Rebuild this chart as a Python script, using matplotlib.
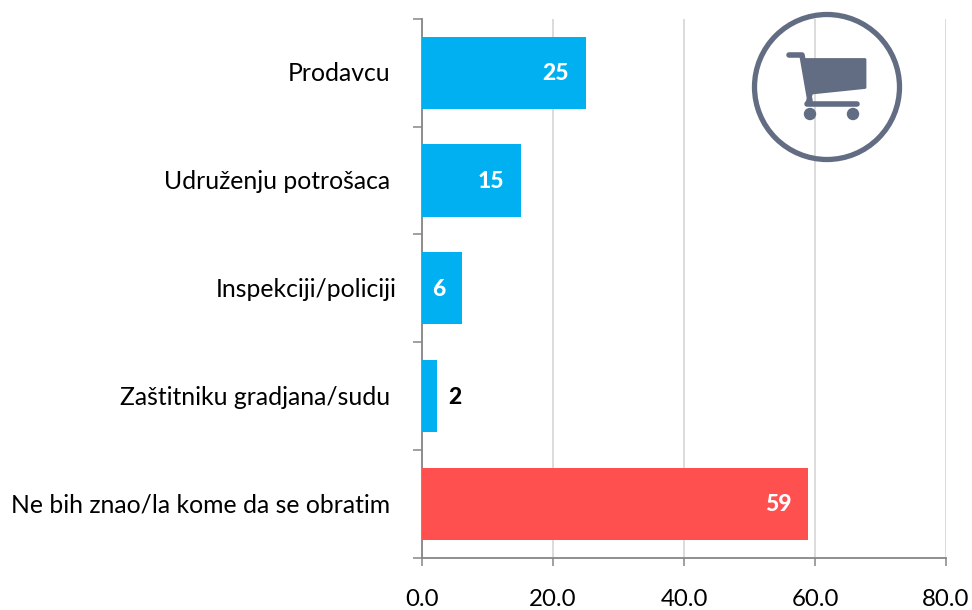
#!/usr/bin/env python3
"""Horizontal bars: whom respondents would turn to."""

import matplotlib
matplotlib.use("Agg")
import matplotlib.pyplot as plt
from matplotlib.patches import Circle, Polygon

categories = ["Prodavcu", "Udruženju potrošaca", "Inspekciji/policiji",
              "Zaštitniku gradjana/sudu", "Ne bih znao/la kome da se obratim"]
values = [25, 15.1, 6.1, 2.3, 59]
value_labels = ["25", "15", "6", "2", "59"]
bar_colors = ["#00B0F0", "#00B0F0", "#00B0F0", "#00B0F0", "#FF5050"]
label_colors = ["white", "white", "white", "black", "white"]
xticks = [0, 20, 40, 60, 80]

plt.rcParams["font.family"] = ["Lato", "DejaVu Sans"]

W, H = 972, 610
AXIS_GREY = "#868686"
fig = plt.figure(figsize=(W / 100, H / 100), dpi=100)
ax = fig.add_axes([422 / W, 1 - 557.5 / H, (946 - 422) / W, (557.5 - 19) / H])

y = list(range(len(categories)))
ax.barh(y, values, height=0.67, color=bar_colors, zorder=3)
ax.set_ylim(len(categories) - 0.5, -0.5)
ax.set_xlim(0, 80)

ax.set_xticks(xticks)
ax.set_xticklabels([f"{t:.1f}" for t in xticks], fontsize=17.3)
ax.set_yticks([i - 0.5 for i in range(len(categories) + 1)])
ax.set_yticklabels([])
ax.tick_params(axis="y", length=6.5, color=AXIS_GREY, width=1.1)
ax.tick_params(axis="x", length=6, color=AXIS_GREY, width=1.1, pad=17,
               labelcolor="black")
ax.xaxis.grid(True, color="#D9D9D9", lw=1.3, zorder=0)
for s in ("top", "right"):
    ax.spines[s].set_visible(False)
for s in ("left", "bottom"):
    ax.spines[s].set_color(AXIS_GREY)
    ax.spines[s].set_linewidth(1.3)

# labels end a little short of the axis, the third one runs closer
label_right = [-4.9, -4.9, -3.8, -4.9, -4.9]
for i, cat in enumerate(categories):
    ax.text(label_right[i], i + 0.01, cat, ha="right", va="center",
            fontsize=17.8, color="black")
    if label_colors[i] == "black":
        ax.text(values[i] + 2.7, i + 0.01, value_labels[i], ha="center",
                va="center", fontsize=16.5, fontweight="black", color="black",
                zorder=4)
    else:
        ax.text(values[i] - 2.6, i + 0.01, value_labels[i], ha="right",
                va="center", fontsize=16.5, fontweight="black",
                color=label_colors[i], zorder=4)

# cart icon, in pixel coords
icon = fig.add_axes([0, 0, 1, 1], facecolor="none")
icon.set_xlim(0, W)
icon.set_ylim(H, 0)
icon.axis("off")
slate = "#626C82"
icon.add_patch(Circle((827, 87), 72.5, fc="none", ec=slate, lw=3.8))
icon.add_patch(Polygon([(803, 59.5), (865, 59.5), (865, 87.5), (812, 93)],
                       closed=True, fc=slate, ec=slate, lw=2,
                       joinstyle="round"))
icon.plot([789, 802, 810], [55, 55, 101], color=slate, lw=4,
          solid_capstyle="round", solid_joinstyle="round")
icon.plot([807, 857], [104, 104], color=slate, lw=4, solid_capstyle="round")
icon.plot([811, 807], [93, 104], color=slate, lw=3, solid_capstyle="round")
icon.add_patch(Circle((810, 114), 6.2, fc=slate, ec="none"))
icon.add_patch(Circle((853, 114), 6.2, fc=slate, ec="none"))

fig.savefig("out.png", dpi=100)
